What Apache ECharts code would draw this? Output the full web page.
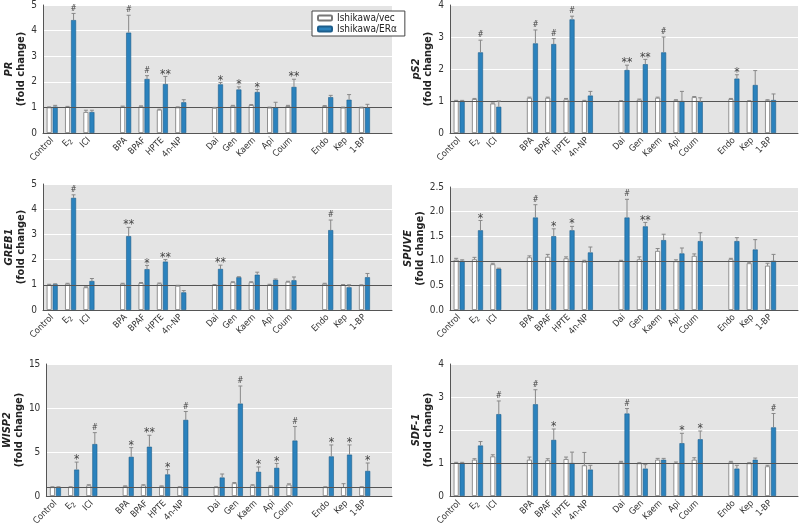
<!DOCTYPE html>
<html>
<head>
<meta charset="utf-8">
<script src="https://cdn.jsdelivr.net/npm/echarts@6/dist/echarts.min.js"></script>
<style>
  html, body { margin: 0; background: #fff; }
  #chart-div { width: 800px; height: 528px; }
</style>
</head>
<body>
<div id="chart-div"></div>
<script>
const compounds = ['Control', 'E2', 'ICI', 'BPA', 'BPAF', 'HPTE', '4n-NP', 'Dai', 'Gen', 'Kaem', 'Api', 'Coum', 'Endo', 'Kep', '1-BP'];
const gapAfter = [2, 6, 11]; // empty slot after these compounds

// PR
const prVec = [1.00, 1.02, 0.82, 1.03, 1.04, 0.91, 1.00, 0.98, 1.06, 1.09, 0.99, 1.05, 1.05, 0.99, 0.99];
const prVecSE = [0.02, 0.02, 0.07, 0.02, 0.02, 0.02, 0.02, 0.02, 0.02, 0.02, 0.02, 0.03, 0.02, 0.02, 0.02];
const prEr = [1.03, 4.41, 0.82, 3.92, 2.11, 1.91, 1.20, 1.90, 1.70, 1.60, 1.00, 1.80, 1.40, 1.30, 1.00];
const prErSE = [0.05, 0.26, 0.07, 0.68, 0.13, 0.30, 0.10, 0.07, 0.10, 0.10, 0.20, 0.30, 0.07, 0.20, 0.12];
const prSig = ['', '#', '', '#', '#', '**', '', '*', '*', '*', '', '**', '', '', ''];

// pS2
const ps2Vec = [1.00, 1.06, 0.92, 1.10, 1.10, 1.05, 1.00, 1.00, 1.04, 1.10, 1.02, 1.12, 1.06, 1.00, 1.02];
const ps2VecSE = [0.02, 0.02, 0.02, 0.02, 0.02, 0.03, 0.02, 0.01, 0.02, 0.02, 0.02, 0.02, 0.02, 0.01, 0.02];
const ps2Er = [1.00, 2.52, 0.82, 2.80, 2.78, 3.55, 1.17, 1.97, 2.15, 2.52, 1.00, 0.97, 1.70, 1.50, 1.03];
const ps2ErSE = [0.02, 0.38, 0.18, 0.42, 0.17, 0.10, 0.13, 0.15, 0.15, 0.48, 0.30, 0.13, 0.12, 0.45, 0.19];
const ps2Sig = ['', '#', '', '#', '#', '#', '', '**', '**', '#', '', '', '*', '', ''];

// GREB1
const greb1Vec = [1.00, 1.04, 0.90, 1.04, 1.07, 1.05, 0.96, 0.99, 1.10, 1.10, 1.00, 1.12, 1.04, 0.99, 0.98];
const greb1VecSE = [0.02, 0.02, 0.02, 0.02, 0.02, 0.02, 0.02, 0.02, 0.02, 0.02, 0.02, 0.02, 0.02, 0.02, 0.02];
const greb1Er = [1.02, 4.45, 1.15, 2.93, 1.62, 1.92, 0.70, 1.63, 1.30, 1.40, 1.20, 1.18, 3.17, 0.90, 1.30];
const greb1ErSE = [0.02, 0.12, 0.10, 0.35, 0.15, 0.08, 0.07, 0.15, 0.02, 0.10, 0.03, 0.13, 0.40, 0.10, 0.15];
const greb1Sig = ['', '#', '', '**', '*', '**', '', '**', '', '', '', '', '#', '', ''];

// SPUVE
const spuveVec = [1.02, 1.03, 0.93, 1.07, 1.08, 1.05, 0.98, 1.00, 1.03, 1.20, 0.99, 1.10, 1.03, 0.95, 0.90];
const spuveVecSE = [0.03, 0.04, 0.02, 0.03, 0.05, 0.03, 0.03, 0.01, 0.05, 0.05, 0.03, 0.04, 0.02, 0.02, 0.05];
const spuveEr = [1.00, 1.62, 0.84, 1.88, 1.50, 1.62, 1.17, 1.88, 1.70, 1.42, 1.15, 1.40, 1.40, 1.23, 1.00];
const spuveErSE = [0.02, 0.20, 0.01, 0.26, 0.15, 0.08, 0.11, 0.37, 0.08, 0.12, 0.11, 0.17, 0.07, 0.20, 0.13];
const spuveSig = ['', '*', '', '#', '*', '*', '', '#', '**', '', '', '', '', '', ''];

// WISP2
const wisp2Vec = [1.0, 1.0, 1.2, 1.1, 1.2, 1.1, 1.0, 1.0, 1.45, 1.2, 1.1, 1.3, 1.0, 1.0, 1.0];
const wisp2VecSE = [0.05, 0.05, 0.08, 0.05, 0.08, 0.05, 0.05, 0.05, 0.08, 0.08, 0.05, 0.08, 0.05, 0.4, 0.05];
const wisp2Er = [1.0, 3.0, 5.9, 4.45, 5.6, 2.45, 8.65, 2.1, 10.5, 2.75, 3.2, 6.3, 4.5, 4.7, 2.85];
const wisp2ErSE = [0.05, 0.85, 1.3, 1.05, 1.3, 0.55, 0.95, 0.4, 2.0, 0.55, 0.5, 1.6, 1.3, 1.1, 0.9];
const wisp2Sig = ['', '*', '#', '*', '**', '*', '#', '', '#', '*', '*', '#', '*', '*', '*'];

// SDF-1
const sdf1Vec = [1.00, 1.10, 1.20, 1.10, 1.08, 1.12, 0.93, 1.02, 0.99, 1.10, 1.00, 1.10, 1.02, 0.99, 0.90];
const sdf1VecSE = [0.02, 0.03, 0.05, 0.08, 0.05, 0.06, 0.39, 0.03, 0.02, 0.04, 0.03, 0.06, 0.03, 0.02, 0.03];
const sdf1Er = [1.00, 1.53, 2.48, 2.78, 1.70, 1.00, 0.80, 2.50, 0.83, 1.10, 1.60, 1.72, 0.83, 1.10, 2.08];
const sdf1ErSE = [0.02, 0.12, 0.40, 0.44, 0.33, 0.33, 0.13, 0.15, 0.12, 0.04, 0.30, 0.25, 0.10, 0.05, 0.42];
const sdf1Sig = ['', '', '#', '#', '*', '', '', '#', '', '', '*', '*', '', '', '#'];

const panels = [
  { gene: 'PR', vec: prVec, vecSE: prVecSE, er: prEr, erSE: prErSE, sig: prSig, max: 5, step: 1 },
  { gene: 'pS2', vec: ps2Vec, vecSE: ps2VecSE, er: ps2Er, erSE: ps2ErSE, sig: ps2Sig, max: 4, step: 1 },
  { gene: 'GREB1', vec: greb1Vec, vecSE: greb1VecSE, er: greb1Er, erSE: greb1ErSE, sig: greb1Sig, max: 5, step: 1 },
  { gene: 'SPUVE', vec: spuveVec, vecSE: spuveVecSE, er: spuveEr, erSE: spuveErSE, sig: spuveSig, max: 2.5, step: 0.5, dec: 1 },
  { gene: 'WISP2', vec: wisp2Vec, vecSE: wisp2VecSE, er: wisp2Er, erSE: wisp2ErSE, sig: wisp2Sig, max: 15, step: 5 },
  { gene: 'SDF-1', vec: sdf1Vec, vecSE: sdf1VecSE, er: sdf1Er, erSE: sdf1ErSE, sig: sdf1Sig, max: 4, step: 1 },
];

const grids = [
  { left: 43, top: 5, width: 349, height: 128 },
  { left: 450, top: 5, width: 348, height: 128 },
  { left: 43, top: 184, width: 349, height: 126 },
  { left: 450, top: 187, width: 348, height: 123 },
  { left: 43, top: 364, width: 349, height: 132 },
  { left: 450, top: 364, width: 348, height: 132 },
];

const FONT = '"Liberation Sans Narrow", "DejaVu Sans Condensed", "Liberation Sans", sans-serif';
const BLUE = '#2b82bd';
const OFF = 3; // half distance between the two bar centres

// category slots: compounds plus empty slots between the groups and one at the end
const slots = [];
const slotOf = [];
compounds.forEach((c, i) => {
  slotOf.push(slots.length);
  slots.push(c);
  if (gapAfter.includes(i)) slots.push('');
});
slots.push('');

const toSlots = arr => {
  const out = slots.map(() => '-');
  arr.forEach((v, i) => (out[slotOf[i]] = v));
  return out;
};

const myChart = echarts.init(document.getElementById('chart-div'));

const xAxis = [];
const yAxis = [];
const series = [];

panels.forEach((p, k) => {
  xAxis.push({
    type: 'category',
    gridIndex: k,
    data: slots,
    axisTick: { show: false },
    axisLine: { lineStyle: { color: '#555', width: 1 } },
    axisLabel: {
      interval: 0,
      rotate: 45,
      margin: 6,
      fontFamily: FONT,
      fontSize: 9,
      color: '#333',
      formatter: v => (v === 'E2' ? '{n|E}{sub|2}' : v),
      rich: {
        n: { fontFamily: FONT, fontSize: 9, color: '#333' },
        sub: { fontFamily: FONT, fontSize: 7, color: '#333', verticalAlign: 'bottom', padding: [5, 0, 0, 0] },
      },
    },
  });
  yAxis.push({
    type: 'value',
    gridIndex: k,
    min: 0,
    max: p.max,
    interval: p.step,
    axisLine: { show: true, lineStyle: { color: '#555', width: 1 } },
    axisTick: { show: false },
    splitLine: { lineStyle: { color: '#fff', width: 1 } },
    axisLabel: {
      margin: 6,
      fontFamily: FONT,
      fontSize: 10,
      color: '#333',
      formatter: v => (p.dec ? v.toFixed(p.dec) : v),
    },
    name: '{g|' + p.gene + '}\n{f|(fold change)}',
    nameLocation: 'middle',
    nameRotate: 90,
    nameGap: 15,
    nameTextStyle: {
      lineHeight: 12,
      rich: {
        g: { fontFamily: FONT, fontSize: 11, fontWeight: 'bold', fontStyle: 'italic', color: '#222', lineHeight: 12 },
        f: { fontFamily: FONT, fontSize: 11, fontWeight: 'bold', color: '#222', lineHeight: 12 },
      },
    },
  });
  series.push({
    name: 'Ishikawa/vec',
    type: 'bar',
    xAxisIndex: k,
    yAxisIndex: k,
    barWidth: 5,
    barGap: '20%',
    data: toSlots(p.vec),
    itemStyle: { color: '#fff', borderColor: '#777', borderWidth: 0.8 },
    markLine: {
      silent: true,
      symbol: 'none',
      label: { show: false },
      lineStyle: { color: '#555', width: 1, type: 'solid' },
      data: [{ yAxis: 1 }],
    },
  });
  series.push({
    name: 'Ishikawa/ERα',
    type: 'bar',
    xAxisIndex: k,
    yAxisIndex: k,
    barWidth: 5,
    data: toSlots(p.er),
    itemStyle: { color: BLUE, borderColor: '#1d5e8c', borderWidth: 0.6 },
  });
  // error bars (upper whisker only) and significance marks
  series.push({
    type: 'custom',
    xAxisIndex: k,
    yAxisIndex: k,
    z: 5,
    silent: true,
    data: p.vec.map((v, i) => [slotOf[i], p.er[i] + p.erSE[i]]),
    renderItem: (params, api) => {
      const i = params.dataIndex;
      const slot = slotOf[i];
      const children = [];
      const whisker = (val, se, off) => {
        const x = api.coord([slot, 0])[0] + off;
        const y0 = api.coord([slot, val])[1];
        const y1 = api.coord([slot, val + se])[1];
        const st = { stroke: '#888', lineWidth: 1 };
        children.push({ type: 'line', shape: { x1: x, y1: y0, x2: x, y2: y1 }, style: st });
        children.push({ type: 'line', shape: { x1: x - 2, y1: y1, x2: x + 2, y2: y1 }, style: st });
        return [x, y1];
      };
      whisker(p.vec[i], p.vecSE[i], -OFF);
      const top = whisker(p.er[i], p.erSE[i], OFF);
      if (p.sig[i]) {
        const hash = p.sig[i] === '#';
        children.push({
          type: 'text',
          x: top[0],
          y: top[1] + (hash ? -1 : 4),
          style: {
            text: p.sig[i],
            fontFamily: FONT,
            fontSize: hash ? 8 : 12,
            fontStyle: hash ? 'italic' : 'normal',
            fill: '#444',
            align: 'center',
            verticalAlign: 'bottom',
          },
        });
      }
      return { type: 'group', children };
    },
  });
});

myChart.setOption({
  backgroundColor: '#fff',
  animation: false,
  grid: grids.map(g => ({ ...g, show: true, backgroundColor: '#e4e4e4', borderWidth: 0 })),
  legend: {
    left: 312,
    top: 11,
    orient: 'vertical',
    backgroundColor: '#fff',
    borderColor: '#444',
    borderWidth: 1,
    borderRadius: 0,
    padding: [2, 8, 2, 5],
    itemGap: 1,
    itemWidth: 14,
    itemHeight: 5,
    textStyle: { fontFamily: FONT, fontSize: 10, color: '#222' },
    data: ['Ishikawa/vec', 'Ishikawa/ERα'],
  },
  xAxis,
  yAxis,
  series,
});
</script>
</body>
</html>
